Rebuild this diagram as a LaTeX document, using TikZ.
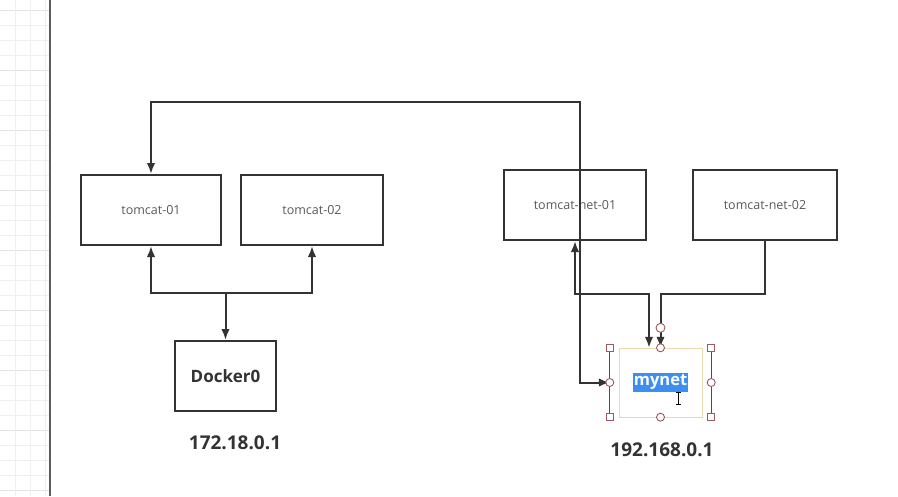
\documentclass[tikz,border=0pt]{standalone}
\usepackage{fontspec}
\setmainfont{Open Sans}
\usetikzlibrary{arrows.meta,calc}
\definecolor{ln}{HTML}{333333}
\definecolor{txt}{HTML}{5A5A5A}
\definecolor{gridc}{HTML}{EFEFEF}
\definecolor{gridd}{HTML}{E3E3E3}
\definecolor{selblue}{HTML}{3C8EF0}
\definecolor{handle}{HTML}{9A5A60}
\definecolor{beige}{HTML}{EAD9B0}
\begin{document}
\begin{tikzpicture}[x=1pt,y=-1pt,
  box/.style={draw=ln,line width=2pt,minimum width=140pt,minimum height=70pt,inner sep=0pt,font=\fontsize{12.5}{15}\selectfont,text=txt},
  iplabel/.style={font=\bfseries\fontsize{19}{22}\selectfont,text=ln,inner sep=0pt},
  conn/.style={draw=ln,line width=2pt},
  arr/.style={conn,-{Latex[length=11pt,width=8.5pt]}},
  arrb/.style={conn,{Latex[length=11pt,width=8.5pt]}-{Latex[length=11pt,width=8.5pt]}},
  sqh/.style={draw=handle,fill=white,line width=0.9pt,minimum size=7pt,inner sep=0pt},
  cih/.style={draw=handle,fill=white,line width=0.9pt,circle,minimum size=8pt,inner sep=0pt}]
\useasboundingbox (0,0) rectangle (898,496);
\fill[white] (0,0) rectangle (898,496);
% grid on the left
\foreach \y in {10,25,...,490} \draw[gridc,line width=0.8pt] (0,\y) -- (49,\y);
\foreach \y in {10,70,...,490} \draw[gridd,line width=0.8pt] (0,\y) -- (49,\y);
\foreach \x in {15,30,45} \draw[gridc,line width=0.8pt] (\x,0) -- (\x,496);
\draw[ln!80,line width=1.6pt] (50,0) -- (50,496);
% nodes
\node[box] (t1) at (151,210) {tomcat-01};
\node[box,minimum width=142pt] (t2) at (312,210) {tomcat-02};
\node[box,minimum width=142pt] (tn1) at (575,205) {tomcat-net-01};
\node[box,minimum width=144pt] (tn2) at (765,205) {tomcat-net-02};
\node[box,minimum width=101pt,font=\bfseries\fontsize{17}{20}\selectfont,text=ln] (d0) at (225.5,376) {Docker0};
\node[iplabel] (ip1) at (235,443) {172.18.0.1};
\node[iplabel] (ip2) at (662,450) {192.168.0.1};
% mynet (in edit mode)
\node[minimum width=101pt,minimum height=69pt,inner sep=0pt] (mn) at (660.5,382.5) {};
\draw[beige,line width=0.9pt] (619,348) rectangle (702,417);
\draw[handle!70!black,line width=1.2pt] (mn.north west) -- (mn.south west);
\draw[handle!70!black,line width=1.2pt] (mn.north east) -- (mn.south east);
\node[fill=selblue,text=white,font=\bfseries\fontsize{16.5}{19}\selectfont,inner xsep=1pt,inner ysep=2pt] (mt) at (660.5,382.5) {mynet};
% connectors
\coordinate (j1) at (225.5,293);
\draw[conn] (t1.south |- j1) -- (t2.south |- j1);
\draw[arr] (j1) -| (t1.south);
\draw[arr] (j1) -| (t2.south);
\draw[arr] (j1) -- (d0.north);
\coordinate (top) at (580,102);
\draw[arrb] (t1.north) |- (top) |- (mn.west);
\coordinate (j2) at ($(mn.north)+(-11.5,-54)$);
\draw[arrb] (tn1.south) |- (j2) -- ($(mn.north)+(-11.5,0)$);
\draw[arr] (tn2.south) |- ($(mn.north)+(0,-54)$) -- (mn.north);
% selection handles
\node[sqh] at (mn.north west) {};
\node[sqh] at (mn.north east) {};
\node[sqh] at (mn.south west) {};
\node[sqh] at (mn.south east) {};
\node[cih] at (mn.north) {};
\node[cih] at (mn.south) {};
\node[cih] at (mn.west) {};
\node[cih] at (mn.east) {};
\node[cih,minimum size=9pt] at ($(mn.north)+(0,-20)$) {};
% text cursor
\draw[black,line width=0.8pt] (678,392) -- (678,404) (675.5,392) -- (680.5,392) (675.5,404) -- (680.5,404);
\end{tikzpicture}
\end{document}
